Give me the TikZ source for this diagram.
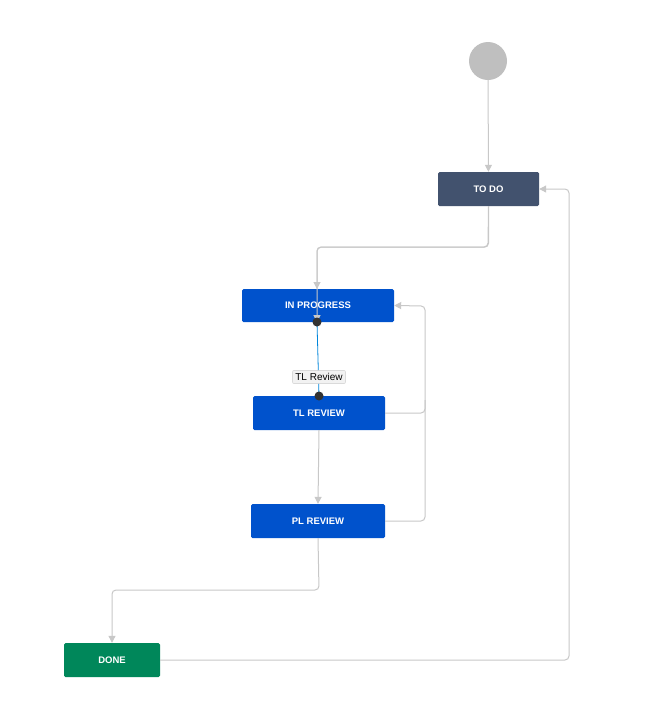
\documentclass[tikz,border=0pt]{standalone}
\usepackage{fontspec}
\setmainfont{Liberation Sans}
\usetikzlibrary{arrows.meta}
\definecolor{todo}{HTML}{42526E}
\definecolor{prog}{HTML}{0052CC}
\definecolor{done}{HTML}{00875A}
\definecolor{conn}{HTML}{C8C8C8}
\tikzset{
  st/.style={rectangle, rounded corners=1.5pt, text=white, font=\bfseries\fontsize{9.5}{11}\selectfont, inner sep=0pt},
  cn/.style={draw=conn, line width=1pt, rounded corners=4pt, -{Triangle[length=7pt,width=7pt]}},
  cnn/.style={draw=conn, line width=1pt, rounded corners=4pt},
}
\begin{document}
\begin{tikzpicture}[x=1pt,y=-1pt]
\useasboundingbox[fill=white] (0,0) rectangle (663,702);
\node[circle, fill=black!25, minimum size=38pt, inner sep=0pt] (start) at (488,61) {};
\node[st, fill=todo, minimum width=101pt, minimum height=34pt] (todo) at (488.5,189) {TO DO};
\node[st, fill=prog, minimum width=152pt, minimum height=33pt] (inp) at (318,305.5) {IN PROGRESS};
\node[st, fill=prog, minimum width=132pt, minimum height=34pt] (tlr) at (319,413) {TL REVIEW};
\node[st, fill=prog, minimum width=134pt, minimum height=34pt] (plr) at (318,521) {PL REVIEW};
\node[st, fill=done, minimum width=96pt, minimum height=34pt] (done) at (112,660) {DONE};
\coordinate (a1) at (317,322);
\coordinate (a2) at (319,396);
\draw[cn] (start) -- (todo);
\draw[cn] (todo.south) -- ++(0,41) -| (inp.south -| 317,0) ;
\draw[cn] (todo.south) -- (488,247) -| (317,289);
\draw[cn] (tlr.east) -| (425,306) -- (inp.east);
\draw[cnn] (plr.east) -| (425,400);
\draw[cn] (tlr.south) -- (plr.north);
\draw[cn] (plr.south) -- (319,590) -| (done.north);
\draw[cn] (done.east) -| (569,189) -- (todo.east);
\draw[draw=prog!70!cyan, line width=0.8pt] (a1) -- (a2);
\node[draw=black!20, fill=black!5, rounded corners=2pt, font=\fontsize{10}{12}\selectfont, inner sep=3pt] (lbl) at (319,377) {TL Review};
\fill[black!80] (a1) circle (4.5pt);
\fill[black!80] (a2) circle (4.5pt);
\end{tikzpicture}
\end{document}
